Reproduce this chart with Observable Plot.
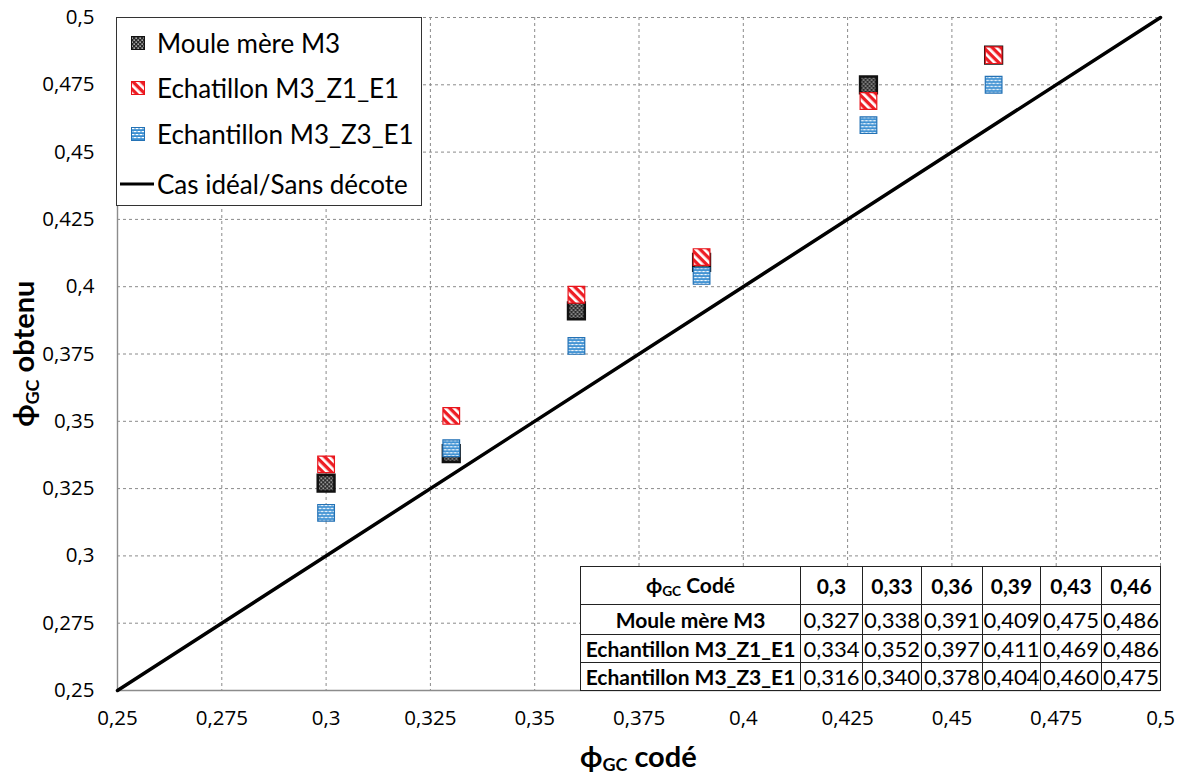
<!DOCTYPE html>
<html>
<head>
<meta charset="utf-8">
<script src="https://cdn.jsdelivr.net/npm/d3@7"></script>
<script src="https://cdn.jsdelivr.net/npm/@observablehq/plot@0.6"></script>
<style>
  body { margin: 0; background: #fff; }
  #wrap { position: relative; width: 1183px; height: 775px; overflow: hidden; }
  .title { position: absolute; font-family: Lato, "Open Sans", sans-serif; font-weight: 700; font-size: 29px; color: #000; white-space: nowrap; }
  .title sub { font-size: 0.62em; vertical-align: -0.25em; }
  #legend { position: absolute; background: #fff; border: 1.5px solid #333; box-sizing: border-box; font-family: Lato, "Open Sans", sans-serif; font-size: 26px; color: #000; }
  #legend .item { position: absolute; left: 0; display: flex; align-items: center; white-space: nowrap; }
  #legend svg { display: block; }
  #tbl { position: absolute; border-collapse: collapse; background: #fff; font-family: Lato, "Open Sans", sans-serif; font-size: 22px; color: #000; table-layout: fixed; }
  #tbl td { border: 1.3px solid #222; text-align: center; padding: 0; white-space: nowrap; overflow: hidden; }
  #tbl td.b { font-weight: 700; font-size: 21px; }
  #tbl sub { font-size: 0.65em; vertical-align: -0.2em; }
</style>
</head>
<body>
<div id="wrap"></div>
<script>
// ---- data ----
const coded = [0.3, 0.33, 0.36, 0.39, 0.43, 0.46];
const moule = [0.327, 0.338, 0.391, 0.409, 0.475, 0.486];
const z1 = [0.334, 0.352, 0.397, 0.411, 0.469, 0.486];
const z3 = [0.316, 0.340, 0.378, 0.404, 0.460, 0.475];
const seriesNames = ["Moule mère M3", "Echatillon M3_Z1_E1", "Echantillon M3_Z3_E1"];
const tableNames = ["Moule mère M3", "Echantillon M3_Z1_E1", "Echantillon M3_Z3_E1"];
const lineName = "Cas idéal/Sans décote";
const ticks = [0.25, 0.275, 0.3, 0.325, 0.35, 0.375, 0.4, 0.425, 0.45, 0.475, 0.5];
const domain = [0.25, 0.5];

const W = 1183, H = 775;
const mL = 117, mR = 23, mT = 17, mB = 85;
const comma = d => String(d).replace(".", ",");
const fmt3 = d => d.toFixed(3).replace(".", ",");

const styles = [
  {fill: "url(#patM)", stroke: "#111", strokeWidth: 2.6},
  {fill: "url(#patZ1)", stroke: "#e8141b", strokeWidth: 1.2},
  {fill: "url(#patZ3)", stroke: "#2472b5", strokeWidth: 1.2}
];
const seriesVals = [moule, z1, z3];

const pts = seriesVals.map(vals => coded.map((c, i) => ({x: c, y: vals[i]})));
const ideal = domain.map(v => ({x: v, y: v}));

const chart = Plot.plot({
  width: W, height: H,
  marginLeft: mL, marginRight: mR, marginTop: mT, marginBottom: mB,
  style: {fontFamily: "'Open Sans', sans-serif", fontSize: "20.5px", color: "#000", background: "#fff"},
  x: {domain, ticks, tickFormat: comma, label: null},
  y: {domain, ticks, tickFormat: comma, label: null},
  marks: [
    Plot.gridX(ticks, {stroke: "#8a8a8a", strokeOpacity: 1, strokeDasharray: "3,3", strokeWidth: 1}),
    Plot.gridY(ticks, {stroke: "#8a8a8a", strokeOpacity: 1, strokeDasharray: "3,3", strokeWidth: 1}),
    Plot.ruleX([domain[0]], {stroke: "#8c8c8c", strokeWidth: 1.4}),
    Plot.ruleY([domain[0]], {stroke: "#8c8c8c", strokeWidth: 1.4}),
    Plot.axisX({ticks, tickFormat: comma, tickSize: 0, tickPadding: 20, label: null}),
    Plot.axisY({ticks, tickFormat: comma, tickSize: 0, tickPadding: 23, label: null}),
    Plot.line(ideal, {x: "x", y: "y", stroke: "#000", strokeWidth: 3.5}),
    ...pts.map((p, k) => Plot.dot(p, {x: "x", y: "y", symbol: "square", r: 9.4, ...styles[k]}))
  ]
});

const defsHTML = `
<pattern id="patM" width="4" height="4" patternUnits="userSpaceOnUse">
  <rect width="4" height="4" fill="#2a2a2a"/>
  <rect x="0.5" y="0.5" width="1.3" height="1.3" fill="#e8e8e8"/>
  <rect x="2.5" y="2.5" width="1.3" height="1.3" fill="#e8e8e8"/>
</pattern>
<pattern id="patZ1" width="6" height="6" patternUnits="userSpaceOnUse" patternTransform="rotate(45)">
  <rect width="6" height="6" fill="#fff"/>
  <rect width="6" height="3.3" fill="#ee1c24"/>
</pattern>
<pattern id="patZ3" width="8" height="6" patternUnits="userSpaceOnUse">
  <rect width="8" height="6" fill="#3b8fd2"/>
  <rect x="0.5" y="1" width="3" height="1.2" fill="#fff"/>
  <rect x="4.5" y="1" width="3" height="1.2" fill="#fff"/>
  <rect x="2.5" y="4" width="3" height="1.2" fill="#fff"/>
  <rect x="6.5" y="4" width="1.5" height="1.2" fill="#fff"/>
  <rect x="0" y="4" width="1.5" height="1.2" fill="#fff"/>
</pattern>`;
const defs = document.createElementNS("http://www.w3.org/2000/svg", "defs");
defs.innerHTML = defsHTML;
chart.insertBefore(defs, chart.firstChild);

const wrap = document.getElementById("wrap");
wrap.appendChild(chart);

// ---- legend ----
const legend = document.createElement("div");
legend.id = "legend";
legend.style.left = (mL - 1) + "px";
legend.style.top = mT + "px";
legend.style.width = "306px";
legend.style.height = "189px";
const itemTops = [25, 70, 116, 166];
seriesNames.forEach((name, k) => {
  const it = document.createElement("div");
  it.className = "item";
  it.style.top = (itemTops[k] - 16) + "px";
  it.style.height = "32px";
  it.innerHTML = `<svg width="40" height="32"><rect x="14.5" y="9.5" width="13" height="13" fill="${styles[k].fill}" stroke="${styles[k].stroke}" stroke-width="1"/></svg><span>${name}</span>`;
  legend.appendChild(it);
});
{
  const it = document.createElement("div");
  it.className = "item";
  it.style.top = (itemTops[3] - 16) + "px";
  it.style.height = "32px";
  it.innerHTML = `<svg width="40" height="32"><line x1="3" x2="37" y1="16" y2="16" stroke="#000" stroke-width="3"/></svg><span>${lineName}</span>`;
  legend.appendChild(it);
}
wrap.appendChild(legend);

// ---- data table ----
const tbl = document.createElement("table");
tbl.id = "tbl";
const colW = [220, 62, 59, 61, 58, 61, 59];
const rowH = [38, 30, 28, 28];
const tblW = d3.sum(colW), tblH = d3.sum(rowH);
tbl.style.left = (W - mR - tblW) + "px";
tbl.style.top = (H - mB - tblH) + "px";
tbl.style.width = tblW + "px";
let html = "<colgroup>" + colW.map(w => `<col style="width:${w}px">`).join("") + "</colgroup>";
html += `<tr style="height:${rowH[0]}px"><td class="b">ϕ<sub>GC</sub> Codé</td>` + coded.map(c => `<td class="b">${comma(c)}</td>`).join("") + "</tr>";
seriesVals.forEach((vals, k) => {
  html += `<tr style="height:${rowH[k + 1]}px"><td class="b">${tableNames[k]}</td>` + vals.map(v => `<td>${fmt3(v)}</td>`).join("") + "</tr>";
});
tbl.innerHTML = html;
wrap.appendChild(tbl);

// ---- axis titles ----
const xt = document.createElement("div");
xt.className = "title";
xt.innerHTML = "ϕ<sub>GC</sub> codé";
wrap.appendChild(xt);
xt.style.left = (mL + (W - mL - mR) / 2 - xt.offsetWidth / 2) + "px";
xt.style.top = (756 - xt.offsetHeight / 2) + "px";

const yt = document.createElement("div");
yt.className = "title";
yt.innerHTML = "ϕ<sub>GC</sub> obtenu";
wrap.appendChild(yt);
const cy = mT + (H - mT - mB) / 2;
yt.style.left = (24 - yt.offsetWidth / 2) + "px";
yt.style.top = (cy - yt.offsetHeight / 2) + "px";
yt.style.transform = "rotate(-90deg)";
</script>
</body>
</html>
